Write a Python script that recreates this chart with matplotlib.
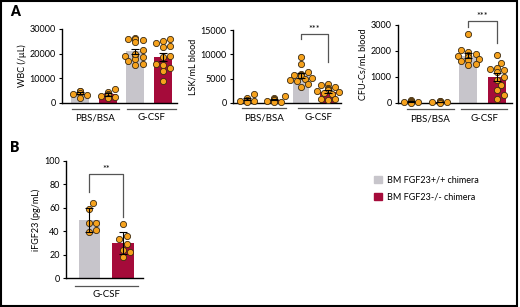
import numpy as np
import matplotlib
matplotlib.use("Agg")
import matplotlib.pyplot as plt
from matplotlib.patches import Rectangle, Patch
import matplotlib.transforms as mtrans

plt.rcParams['font.family'] = ['Lato', 'DejaVu Sans']
plt.rcParams['font.size'] = 6.5

# data
groups = ["PBS/BSA", "G-CSF"]
genotypes = ["BM FGF23+/+ chimera", "BM FGF23-/- chimera"]

wbc_pbs_wt = [4600, 4800, 4900, 4200, 3400, 2000, 3800]
wbc_pbs_ko = [5700, 4300, 3600, 3300, 2400, 1900, 3000]
wbc_gcsf_wt = [26500, 25800, 26000, 25500, 24800, 21500, 19000, 19300,
               18000, 17000, 16000, 15500, 20000, 18500]
wbc_gcsf_ko = [25900, 25000, 24200, 23000, 22500, 19000, 18500, 16000,
               15500, 14000, 13000, 8800]

lsk_pbs_wt = [1800, 1000, 700, 500, 400, 300]
lsk_pbs_ko = [1400, 1000, 800, 600, 400, 300, 300]
lsk_gcsf_wt = [9500, 8000, 6300, 6000, 5800, 5700, 5500, 5200, 5000,
               4800, 4500, 4000, 3300]
lsk_gcsf_ko = [4000, 3600, 3300, 3000, 2800, 2600, 2500, 2300, 2000,
               1800, 800, 800, 700]

cfu_pbs_wt = [100, 80, 50, 30, 20, 10]
cfu_pbs_ko = [70, 60, 40, 30, 20, 10]
cfu_gcsf_wt = [2650, 2050, 1950, 1900, 1850, 1800, 1750, 1700, 1650,
               1600, 1500, 1450]
cfu_gcsf_ko = [1850, 1550, 1350, 1300, 1250, 1200, 1000, 900, 700,
               500, 300, 150]

fgf_wt = [64, 59, 47, 47, 41, 39]
fgf_ko = [46, 36, 33, 29, 24, 22, 18]

gray = "#C7C5CB"
red = "#A50B3A"
orange = "#F6A21D"
line_gray = "#555555"


def swarm(ax, vals, xc, width):
    # simple greedy beeswarm in pixel space
    fig = ax.figure
    fig.canvas.draw()
    vals = np.asarray(vals, dtype=float)
    order = np.argsort(vals)
    pts = ax.transData.transform(np.column_stack([np.full(len(vals), xc), vals]))
    px_per_x = ax.transData.transform((1, 0))[0] - ax.transData.transform((0, 0))[0]
    d = 6.0
    maxoff = width * 0.7 * px_per_x
    placed = []
    xs = np.zeros(len(vals))
    for i in order:
        y = pts[i, 1]
        best = None
        for k in range(0, 12):
            for s in ([0] if k == 0 else [k, -k]):
                off = s * d * 0.6
                if abs(off) > maxoff:
                    continue
                if all((off - px) ** 2 + (y - py) ** 2 >= d * d for px, py in placed):
                    best = off
                    break
            if best is not None:
                break
        if best is None:
            best = 0.0
        placed.append((best, y))
        xs[i] = xc + best / px_per_x
    ax.scatter(xs, vals, s=20, color=orange, edgecolor="#3b2a12",
               linewidth=0.6, zorder=4, clip_on=False)


def bar_panel(ax, data, ylim, yticks, ylabel, width, xlim, sem=True):
    xpos = np.arange(len(data))
    colors = [gray, red] * (len(data) // 2)
    means = [np.mean(v) for v in data]
    if sem:
        errs = [np.std(v, ddof=1) / np.sqrt(len(v)) for v in data]
    else:
        errs = [np.std(v, ddof=1) for v in data]
    ax.bar(xpos, means, width=width, color=colors, zorder=2)
    ax.errorbar(xpos, means, yerr=errs, fmt="none", ecolor="black",
                elinewidth=0.8, capsize=3, capthick=0.8, zorder=5)
    ax.set_xlim(*xlim)
    ax.set_ylim(*ylim)
    ax.set_yticks(yticks)
    ax.set_xticks([])
    ax.set_ylabel(ylabel, labelpad=2)
    for s in ["top", "right"]:
        ax.spines[s].set_visible(False)
    ax.spines["left"].set_linewidth(1.0)
    ax.spines["bottom"].set_linewidth(1.0)
    ax.tick_params(axis="y", length=2.5, width=0.8, pad=2)
    for i, v in enumerate(data):
        swarm(ax, v, xpos[i], width)
    return xpos, means


def group_lines(ax, spans, labels, ly=-0.075, ty=-0.2):
    tr = mtrans.blended_transform_factory(ax.transData, ax.transAxes)
    for (a, b), lab in zip(spans, labels):
        ax.plot([a, b], [ly, ly], color=line_gray, lw=0.9, transform=tr, clip_on=False)
        ax.text((a + b) / 2, ty, lab, transform=tr, ha="center", va="center", fontsize=7)


def bracket(ax, x1, x2, ytop, y1, y2, label):
    ax.plot([x1, x1, x2, x2], [y1, ytop, ytop, y2], color=line_gray, lw=0.9, clip_on=False)
    ax.text((x1 + x2) / 2, ytop, label, ha="center", va="bottom", fontsize=6.5)


fig = plt.figure(figsize=(5.2, 3.07), dpi=100)

H = 307
W = 520


def axes_px(l, r, b, t):
    return fig.add_axes([l / W, 1 - b / H, (r - l) / W, (b - t) / H])


ax1 = axes_px(62, 177, 103, 29)
bar_panel(ax1, [wbc_pbs_wt, wbc_pbs_ko, wbc_gcsf_wt, wbc_gcsf_ko], (0, 30000),
          [0, 10000, 20000, 30000], "WBC (/µL)", 0.65, (-0.65, 3.5))
group_lines(ax1, [(-0.3, 1.4), (1.7, 3.45)], groups)

ax2 = axes_px(233, 341, 103, 30)
bar_panel(ax2, [lsk_pbs_wt, lsk_pbs_ko, lsk_gcsf_wt, lsk_gcsf_ko], (0, 15000),
          [0, 5000, 10000, 15000], "LSK/mL blood", 0.6, (-0.52, 3.48))
group_lines(ax2, [(-0.2, 1.45), (1.9, 3.4)], groups)
bracket(ax2, 2, 3, 14200, 13100, 8400, "***")

ax3 = axes_px(398, 512, 103, 25)
bar_panel(ax3, [cfu_pbs_wt, cfu_pbs_ko, cfu_gcsf_wt, cfu_gcsf_ko], (0, 3000),
          [0, 1000, 2000, 3000], "CFU-Cs/mL blood", 0.63, (-0.45, 3.52))
group_lines(ax3, [(-0.15, 1.5), (1.75, 3.35)], groups)
bracket(ax3, 2, 3, 3150, 2920, 2310, "***")

ax4 = axes_px(66, 143, 278, 161)
bar_panel(ax4, [fgf_wt, fgf_ko], (0, 100), [0, 20, 40, 60, 80, 100],
          "iFGF23 (pg/mL)", 0.62, (-0.68, 1.59), sem=False)
group_lines(ax4, [(-0.4, 1.45)], ["G-CSF"], ly=-0.065, ty=-0.145)
bracket(ax4, 0, 1, 89, 73.5, 52, "**")

fig.text(10 / W, 1 - 12 / H, "A", fontsize=10, fontweight="heavy", va="center")
fig.text(10 / W, 1 - 147 / H, "B", fontsize=10, fontweight="heavy", va="center")

handles = [Patch(color=gray), Patch(color=red)]
fig.legend(handles, genotypes, loc="upper left",
           bbox_to_anchor=(370 / W, 1 - 172 / H), frameon=False,
           handlelength=0.9, handleheight=0.9, handletextpad=0.6,
           labelspacing=0.9, fontsize=6.5, borderaxespad=0)

fig.patches.append(Rectangle((0.002, 0.004), 0.993, 0.992, transform=fig.transFigure,
                             fill=False, edgecolor="black", lw=1.5))

fig.savefig("out.png", dpi=100)
